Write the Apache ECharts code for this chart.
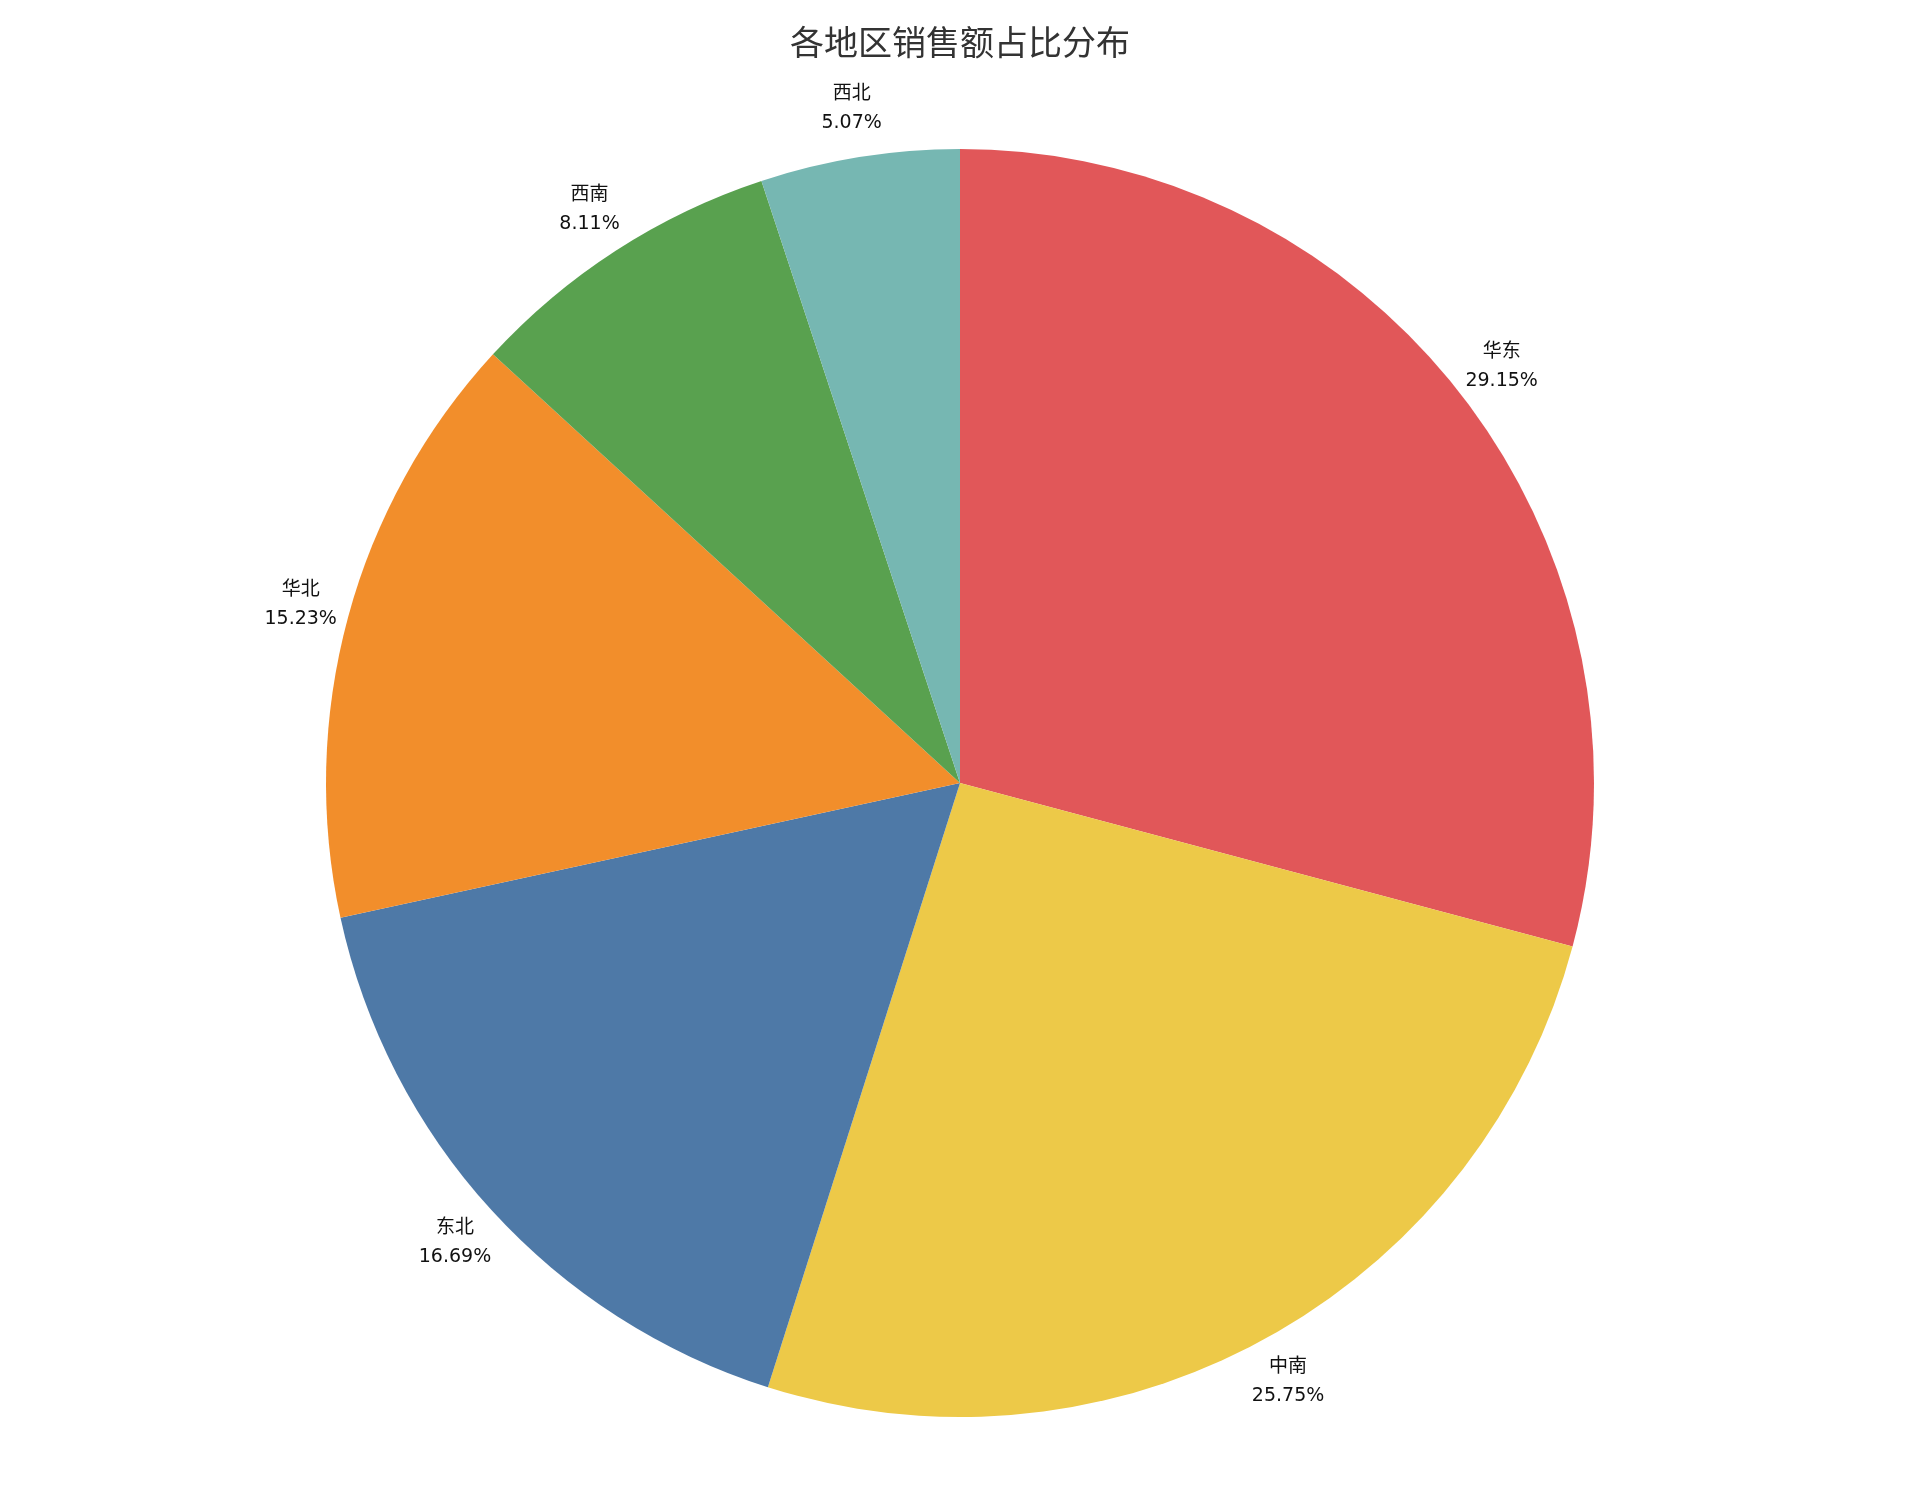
<!DOCTYPE html>
<html lang="zh-CN">
<head>
    <meta charset="UTF-8">
    <title>各地区销售额占比分布</title>
    <script src="https://cdn.jsdelivr.net/npm/echarts@6/dist/echarts.min.js"></script>
    <style>
        html, body { margin: 0; padding: 0; background: #fff; }
        #main { width: 1920px; height: 1493px; }
    </style>
</head>
<body>
<div id="main"></div>

<script type="text/javascript">
    // 地区与占比（%）
    var regions = ['华东', '中南', '东北', '华北', '西南', '西北'];
    var shares = [29.15, 25.75, 16.69, 15.23, 8.11, 5.07];
    var colors = ['#e15759', '#edc948', '#4e79a7', '#f28e2b', '#59a14f', '#76b7b2'];

    var pieData = regions.map(function (name, i) {
        return { name: name, value: shares[i], itemStyle: { color: colors[i] } };
    });

    var myChart = echarts.init(document.getElementById('main'));
    var option = {
        backgroundColor: '#ffffff',
        animation: false,
        title: {
            text: '各地区销售额占比分布',
            left: 'center',
            top: 20,
            textStyle: {
                fontFamily: 'Noto Sans CJK SC',
                fontSize: 34,
                fontWeight: 'normal',
                color: '#333333'
            }
        },
        series: [
            {
                // 饼图本体
                type: 'pie',
                center: [960, 783],
                radius: [0, 634],
                startAngle: 90,
                clockwise: true,
                silent: true,
                label: { show: false },
                labelLine: { show: false },
                data: pieData
            },
            {
                // 透明外环，只用来放标签
                type: 'pie',
                center: [960, 783],
                radius: [634, 726],
                startAngle: 90,
                clockwise: true,
                silent: true,
                avoidLabelOverlap: false,
                itemStyle: { color: 'rgba(0,0,0,0)' },
                emphasis: { disabled: true },
                label: {
                    show: true,
                    position: 'inside',
                    formatter: '{b}\n{c}%',
                    color: '#111111',
                    fontFamily: 'DejaVu Sans, Noto Sans CJK SC',
                    fontSize: 19,
                    lineHeight: 29,
                    align: 'center'
                },
                labelLine: { show: false },
                data: regions.map(function (name, i) {
                    return { name: name, value: shares[i] };
                })
            }
        ]
    };

    myChart.setOption(option);
</script>
</body>
</html>
